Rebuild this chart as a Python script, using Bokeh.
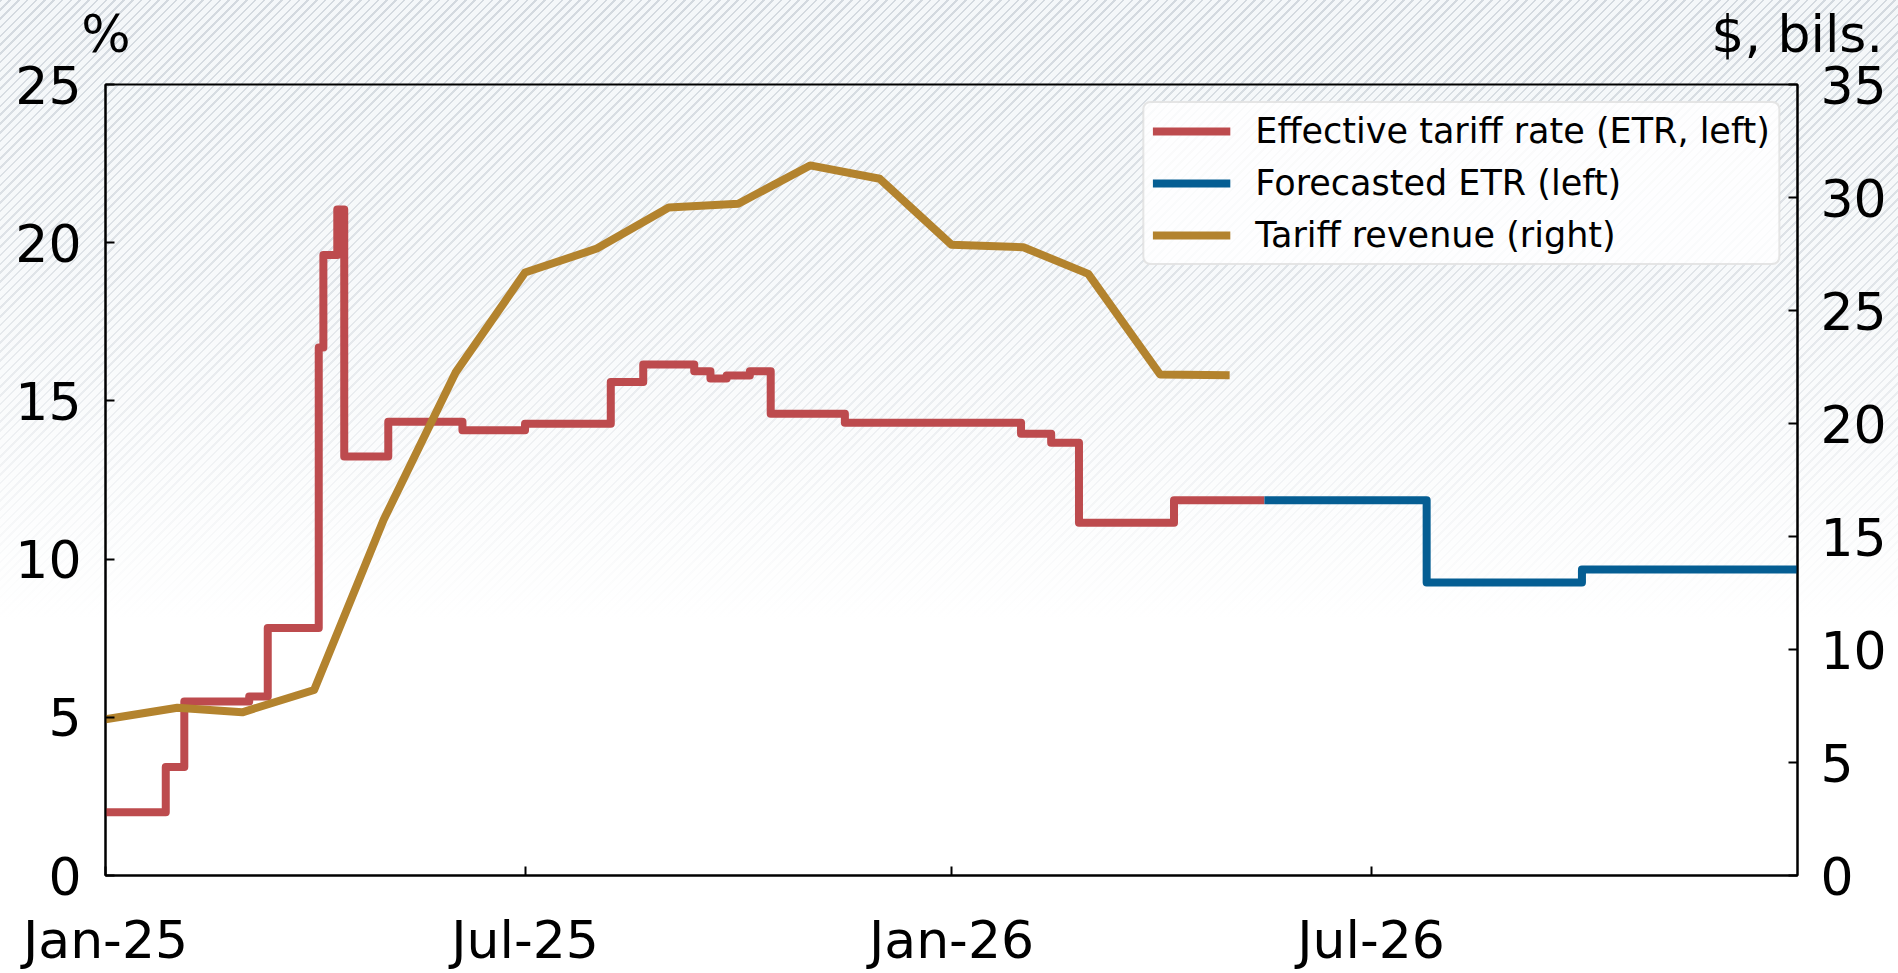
from datetime import datetime
import pandas as pd
from bokeh.plotting import figure
from bokeh.models import (Range1d, LinearAxis, FixedTicker, DatetimeTickFormatter,
                          CustomJSTickFormatter, Legend, LegendItem, ColumnDataSource)
from bokeh.embed import file_html
from bokeh.resources import INLINE

# ---------------- data ----------------
etr_dates = ["2025-01-01", "2025-01-27", "2025-02-04", "2025-03-04", "2025-03-12",
             "2025-04-03", "2025-04-05", "2025-04-11", "2025-04-14", "2025-05-03",
             "2025-06-04", "2025-07-01", "2025-08-07", "2025-08-21", "2025-09-12",
             "2025-09-19", "2025-09-26", "2025-10-06", "2025-10-15", "2025-11-16",
             "2026-01-31", "2026-02-13", "2026-02-25", "2026-04-07", "2026-05-16"]
etr_values = [2.0, 3.43, 5.50, 5.66, 7.82,
              16.69, 19.61, 21.05, 13.24, 14.34,
              14.07, 14.28, 15.60, 16.15, 15.94,
              15.71, 15.80, 15.94, 14.59, 14.31,
              13.96, 13.68, 11.15, 11.86, 11.86]

forecast_dates = ["2026-05-16", "2026-07-25", "2026-09-30", "2027-01-01"]
forecast_values = [11.86, 9.26, 9.67, 9.67]

revenue_dates = ["2025-01-01", "2025-02-01", "2025-03-01", "2025-04-01", "2025-05-01",
                 "2025-06-01", "2025-07-01", "2025-08-01", "2025-09-01", "2025-10-01",
                 "2025-11-01", "2025-12-01", "2026-01-01", "2026-02-01", "2026-03-01",
                 "2026-04-01", "2026-05-01"]
revenue_values = [6.91, 7.42, 7.22, 8.21, 15.74,
                  22.25, 26.68, 27.74, 29.56, 29.72,
                  31.42, 30.83, 27.91, 27.80, 26.62,
                  22.17, 22.14]

x_tick_dates = ["2025-01-01", "2025-07-01", "2026-01-01", "2026-07-01"]
x_tick_labels = ["Jan-25", "Jul-25", "Jan-26", "Jul-26"]
left_ticks = [0, 5, 10, 15, 20, 25]
right_ticks = [0, 5, 10, 15, 20, 25, 30, 35]

series_names = ["Effective tariff rate (ETR, left)", "Forecasted ETR (left)", "Tariff revenue (right)"]
unit_labels = ["%", "$, bils."]   # left-axis unit, right-axis unit

RED = "#bd4b4e"
BLUE = "#055e93"
GOLD = "#b3832e"
FONT = "DejaVu Sans"
LW = 8

# ---------------- figure ----------------
W, H = 1898, 973
p = figure(width=W, height=H, x_axis_type="datetime",
           x_range=Range1d(datetime(2025, 1, 1), datetime(2027, 1, 1)),
           y_range=Range1d(0, 25),
           output_backend="svg", toolbar_location=None,
           min_border_left=105, min_border_right=101, min_border_top=83, min_border_bottom=98)
p.extra_y_ranges = {"rev": Range1d(0, 35)}
p.extra_x_ranges = {"units": Range1d(-0.0002, 1.0002)}
p.background_fill_alpha = 0
p.border_fill_alpha = 0
p.outline_line_color = "black"
p.outline_line_width = 2
p.outline_line_alpha = 1
p.xgrid.visible = False
p.ygrid.visible = False

# hatched page background that fades out towards the bottom (decoration only)
p.styles = {
    "background": (
        "linear-gradient(to bottom, rgba(255,255,255,0) 0px, rgba(255,255,255,0.3) 280px, "
        "rgba(255,255,255,1) 620px), "
        "repeating-linear-gradient(135deg, #d3d9df 0px, #d3d9df 1.8px, #f4f7f9 1.8px, #f4f7f9 6.2px)"
    )
}

etr_src = ColumnDataSource(dict(x=pd.to_datetime(etr_dates), y=etr_values))
fc_src = ColumnDataSource(dict(x=pd.to_datetime(forecast_dates), y=forecast_values))
rev_src = ColumnDataSource(dict(x=pd.to_datetime(revenue_dates), y=revenue_values))

r_etr = p.step("x", "y", source=etr_src, mode="after", line_color=RED, line_width=LW,
               line_join="round")
r_fc = p.step("x", "y", source=fc_src, mode="after", line_color=BLUE, line_width=LW,
              line_join="round")
r_rev = p.line("x", "y", source=rev_src, y_range_name="rev", line_color=GOLD, line_width=LW,
               line_join="round")

right_axis = LinearAxis(y_range_name="rev")
p.add_layout(right_axis, "right")


def style_axis(ax, standoff):
    ax.axis_line_color = "black"
    ax.axis_line_width = 2
    ax.major_tick_line_color = "black"
    ax.major_tick_line_width = 2
    ax.major_tick_in = 9
    ax.major_tick_out = 0
    ax.minor_tick_line_color = None
    ax.major_label_text_font = FONT
    ax.major_label_text_font_size = "52px"
    ax.major_label_text_color = "black"
    ax.major_label_standoff = standoff


xax = p.xaxis[0]
tick_ms = [int(pd.Timestamp(d).value // 10**6) for d in x_tick_dates]
xax.ticker = FixedTicker(ticks=tick_ms)
xax.formatter = CustomJSTickFormatter(args=dict(labels=x_tick_labels), code="return labels[index];")
style_axis(xax, 34)

lax = p.yaxis[0]
lax.ticker = FixedTicker(ticks=left_ticks)
style_axis(lax, 24)

right_axis.ticker = FixedTicker(ticks=right_ticks)
style_axis(right_axis, 23)

# unit labels: an invisible top axis whose two tick labels sit over the left and right axes
units_axis = LinearAxis(x_range_name="units", ticker=FixedTicker(ticks=[0, 1]),
                        formatter=CustomJSTickFormatter(args=dict(labels=unit_labels),
                                                        code="return labels[index];"))
units_axis.axis_line_color = None
units_axis.major_tick_line_color = None
units_axis.minor_tick_line_color = None
units_axis.major_tick_in = 0
units_axis.major_tick_out = 0
units_axis.major_label_text_font = FONT
units_axis.major_label_text_font_size = "52px"
units_axis.major_label_text_color = "black"
units_axis.major_label_standoff = 21
p.add_layout(units_axis, "above")

legend = Legend(items=[LegendItem(label=series_names[0], renderers=[r_etr]),
                       LegendItem(label=series_names[1], renderers=[r_fc]),
                       LegendItem(label=series_names[2], renderers=[r_rev])],
                location="top_right")
legend.label_text_font = FONT
legend.label_text_font_size = "35px"
legend.label_text_color = "black"
legend.glyph_width = 78
legend.glyph_height = 40
legend.label_height = 40
legend.label_standoff = 25
legend.spacing = 12
legend.padding = 8
legend.margin = 17
legend.border_line_color = "#cccccc"
legend.border_line_width = 2
legend.background_fill_color = "white"
legend.background_fill_alpha = 0.85
if "border_radius" in Legend.properties():
    legend.border_radius = 8
p.add_layout(legend)

open("out.html", "w").write(file_html(p, INLINE))
